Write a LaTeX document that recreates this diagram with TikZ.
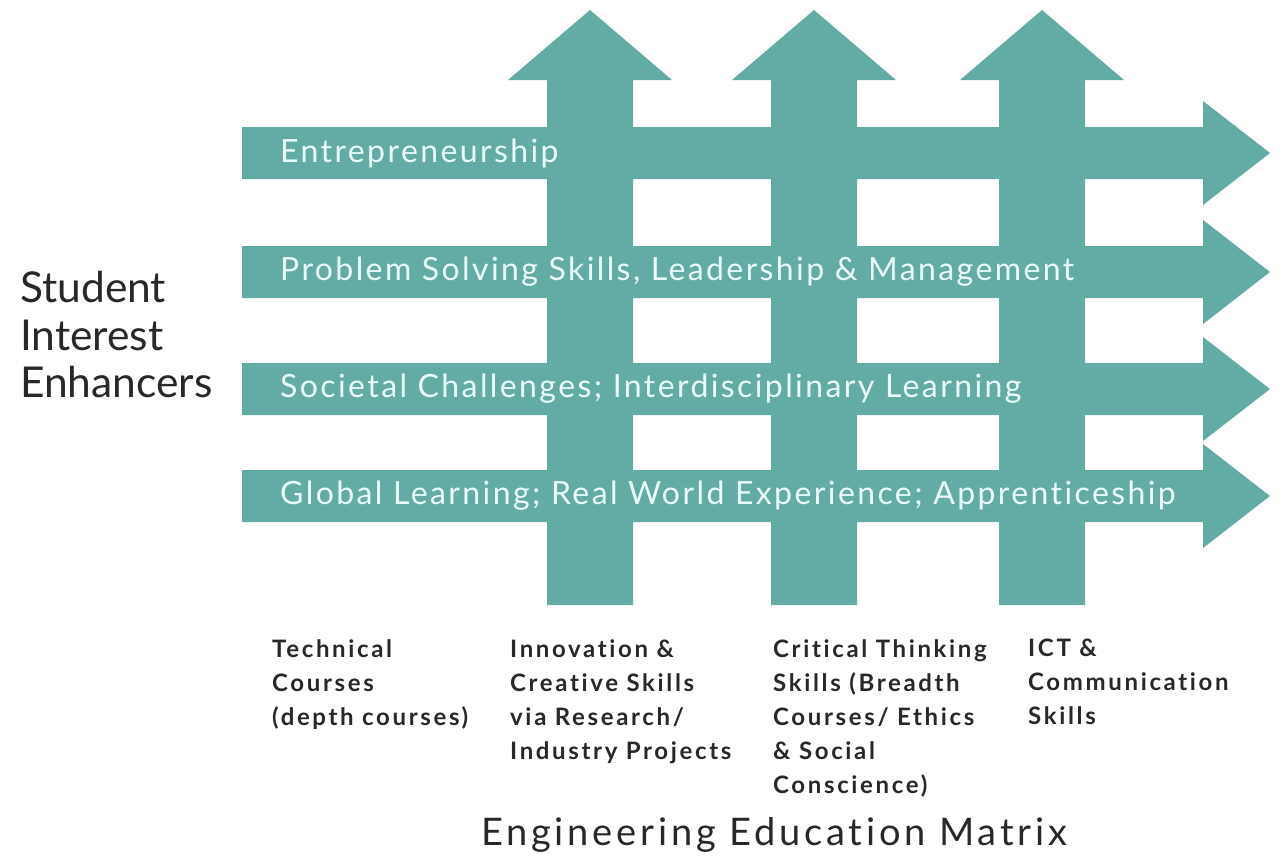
\documentclass[tikz,border=0pt]{standalone}
\usepackage{fontspec}
\setmainfont{Lato}
\newfontfamily\rowfont{Lato}[LetterSpace=7.5, Ligatures=NoCommon]
\newfontfamily\labelfont{Lato}[LetterSpace=11, Ligatures=NoCommon]
\newfontfamily\titlefont{Lato}[LetterSpace=10, Ligatures=NoCommon]
\definecolor{matrixteal}{RGB}{99,172,165}
\definecolor{rowwhite}{RGB}{236,252,250}
\definecolor{labelgray}{RGB}{40,40,40}

\tikzset{
	rowtext/.style={anchor=west, inner sep=0pt, text=rowwhite, font=\rowfont\fontsize{32}{32}\selectfont},
	coltext/.style={anchor=north west, inner sep=0pt, align=left, text=labelgray, font=\labelfont\bfseries\fontsize{24}{34}\selectfont},
}

\begin{document}
\begin{tikzpicture}[x=1pt, y=-1pt]
	\useasboundingbox (0, 0) rectangle (1283, 857);

	\foreach \c in {153, 272, 389, 496}
		\fill[matrixteal] (242, \c-26) -- (1203, \c-26) -- (1203, \c-52) -- (1270, \c) -- (1203, \c+52) -- (1203, \c+26) -- (242, \c+26) -- cycle;
	\foreach \c in {590, 814, 1042}
		\fill[matrixteal] (\c-43, 605) -- (\c-43, 80) -- (\c-82, 80) -- (\c, 10) -- (\c+82, 80) -- (\c+43, 80) -- (\c+43, 605) -- cycle;

	\node[rowtext] (entre) at (280, 153) {Entrepreneurship};
	\node[rowtext] (problem) at (280, 272) {Problem Solving Skills, Leadership \& Management};
	\node[rowtext] (societal) at (280, 389) {Societal Challenges; Interdisciplinary Learning};
	\node[rowtext] (global) at (280, 496) {Global Learning; Real World Experience; Apprenticeship};

	\node[anchor=west, inner sep=0pt, align=left, text=labelgray, font=\fontsize{42.5}{47.5}\selectfont] (student) at (20, 335) {Student\\Interest\\Enhancers};

	\node[coltext] (technical) at (272, 639) {Technical\\Courses\\(depth courses)};
	\node[coltext] (innovation) at (510, 639) {Innovation \&\\Creative Skills\\via Research/\\Industry Projects};
	\node[coltext] (critical) at (773, 639) {Critical Thinking\\Skills (Breadth\\Courses/ Ethics\\\& Social\\Conscience)};
	\node[coltext] (ict) at (1028, 639) {ICT \&\\Communication\\Skills};

	\node[text=labelgray, inner sep=0pt, font=\titlefont\fontsize{38}{38}\selectfont] (title) at (774, 835) {Engineering Education Matrix};
\end{tikzpicture}
\end{document}
